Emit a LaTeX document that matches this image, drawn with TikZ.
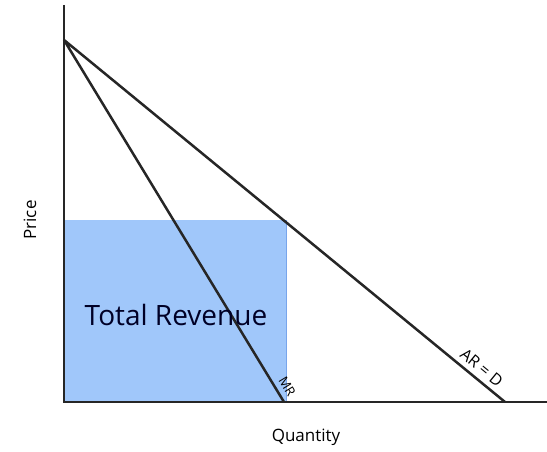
\documentclass[tikz,border=0pt]{standalone}
\usepackage{fontspec}
\setmainfont{Open Sans}
\usetikzlibrary{calc}
\definecolor{revblue}{RGB}{160,199,250}
\definecolor{revedge}{RGB}{120,165,235}
\newcommand{\curvewidth}{2.5pt}

\begin{document}
\begin{tikzpicture}[x=1pt,y=1pt]
        \useasboundingbox (0,0) rectangle (547,452);
        \coordinate (origin) at (64,50);
        \coordinate (ytop) at (64,447);
        \coordinate (xend) at (547,50);
        \coordinate (pmax) at (64,412);
        \coordinate (mrend) at (284,50);
        \coordinate (arend) at (505,50);
        \coordinate (revcorner) at (286,232);

        \fill[revblue] (origin) rectangle (revcorner);
        \draw[revedge, line width=1pt] (286,50) to (revcorner);

        \draw[line width=\curvewidth, black!85]
        (ytop) to (origin) to (xend);
        \draw[line width=\curvewidth, black!85]
        (pmax) to (arend)
        (pmax) to (mrend);

            \node (tr) at (176,137) [font=\fontsize{28}{32}\selectfont, text=black!85!blue] {Total Revenue};
            \node (price) at (30,232) [rotate=90, font=\fontsize{17}{20}\selectfont] {Price};
            \node (qty) at (306,15) [font=\fontsize{17}{20}\selectfont] {Quantity};
            \path (pmax) -- (mrend) node[pos=0.972, sloped, above=5pt, inner sep=1pt, font=\fontsize{13}{15}\selectfont] (mr) {MR};
            \path (pmax) -- (arend) node[pos=0.93, sloped, above=5pt, inner sep=1pt, font=\fontsize{16}{19}\selectfont] (ar) {AR = D};
          \end{tikzpicture}
\end{document}
